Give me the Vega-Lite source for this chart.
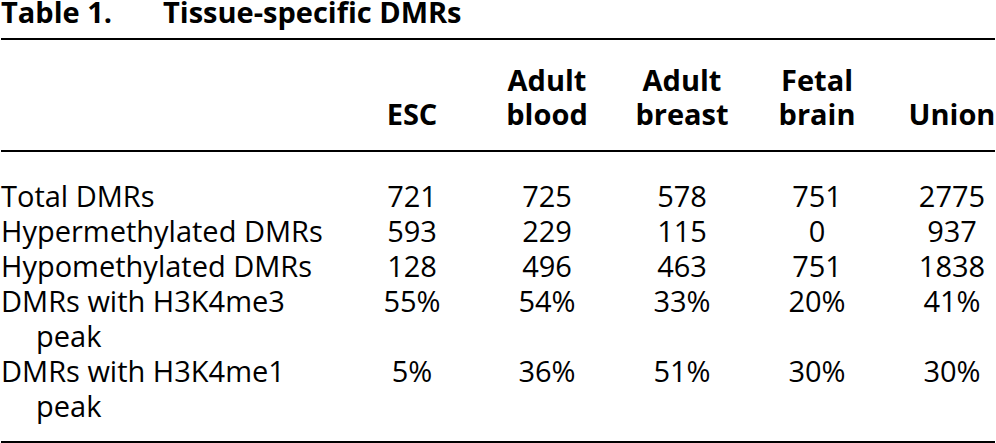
{
  "$schema": "https://vega.github.io/schema/vega-lite/v6.json",
  "width": 996,
  "height": 443,
  "autosize": {"type": "fit", "contains": "padding"},
  "padding": 0,
  "background": "white",
  "config": {
    "view": {"stroke": null},
    "scale": {"pointPadding": 0},
    "text": {"font": "Open Sans", "fontSize": 29, "color": "#000000", "baseline": "alphabetic"}
  },
  "datasets": {
    "cells": [
      {"row": "Total DMRs", "col": "ESC", "val": "721"},
      {"row": "Total DMRs", "col": "Adult blood", "val": "725"},
      {"row": "Total DMRs", "col": "Adult breast", "val": "578"},
      {"row": "Total DMRs", "col": "Fetal brain", "val": "751"},
      {"row": "Total DMRs", "col": "Union", "val": "2775"},
      {"row": "Hypermethylated DMRs", "col": "ESC", "val": "593"},
      {"row": "Hypermethylated DMRs", "col": "Adult blood", "val": "229"},
      {"row": "Hypermethylated DMRs", "col": "Adult breast", "val": "115"},
      {"row": "Hypermethylated DMRs", "col": "Fetal brain", "val": "0"},
      {"row": "Hypermethylated DMRs", "col": "Union", "val": "937"},
      {"row": "Hypomethylated DMRs", "col": "ESC", "val": "128"},
      {"row": "Hypomethylated DMRs", "col": "Adult blood", "val": "496"},
      {"row": "Hypomethylated DMRs", "col": "Adult breast", "val": "463"},
      {"row": "Hypomethylated DMRs", "col": "Fetal brain", "val": "751"},
      {"row": "Hypomethylated DMRs", "col": "Union", "val": "1838"},
      {"row": "DMRs with H3K4me3 peak", "col": "ESC", "val": "55%"},
      {"row": "DMRs with H3K4me3 peak", "col": "Adult blood", "val": "54%"},
      {"row": "DMRs with H3K4me3 peak", "col": "Adult breast", "val": "33%"},
      {"row": "DMRs with H3K4me3 peak", "col": "Fetal brain", "val": "20%"},
      {"row": "DMRs with H3K4me3 peak", "col": "Union", "val": "41%"},
      {"row": "DMRs with H3K4me1 peak", "col": "ESC", "val": "5%"},
      {"row": "DMRs with H3K4me1 peak", "col": "Adult blood", "val": "36%"},
      {"row": "DMRs with H3K4me1 peak", "col": "Adult breast", "val": "51%"},
      {"row": "DMRs with H3K4me1 peak", "col": "Fetal brain", "val": "30%"},
      {"row": "DMRs with H3K4me1 peak", "col": "Union", "val": "30%"}
    ],
    "labels": [
      {"row": "Total DMRs", "level": "main", "label": "Total DMRs"},
      {"row": "Hypermethylated DMRs", "level": "main", "label": "Hypermethylated DMRs"},
      {"row": "Hypomethylated DMRs", "level": "main", "label": "Hypomethylated DMRs"},
      {"row": "DMRs with H3K4me3 peak", "level": "main", "label": "DMRs with H3K4me3"},
      {"row": "H3K4me3 continued", "level": "continued", "label": "peak"},
      {"row": "DMRs with H3K4me1 peak", "level": "main", "label": "DMRs with H3K4me1"},
      {"row": "H3K4me1 continued", "level": "continued", "label": "peak"}
    ],
    "headers": [
      {"col": "ESC", "line": "2", "text": "ESC"},
      {"col": "Adult blood", "line": "1", "text": "Adult"},
      {"col": "Adult blood", "line": "2", "text": "blood"},
      {"col": "Adult breast", "line": "1", "text": "Adult"},
      {"col": "Adult breast", "line": "2", "text": "breast"},
      {"col": "Fetal brain", "line": "1", "text": "Fetal"},
      {"col": "Fetal brain", "line": "2", "text": "brain"},
      {"col": "Union", "line": "2", "text": "Union"}
    ],
    "title": [
      {"part": "Table 1."},
      {"part": "Tissue-specific DMRs"}
    ],
    "rules": [
      {"rule": "top"},
      {"rule": "mid"},
      {"rule": "bottom"}
    ]
  },
  "layer": [
    {
      "data": {"name": "title"},
      "mark": {"type": "text", "align": "left", "fontWeight": "bold"},
      "encoding": {
        "x": {"field": "part", "type": "nominal", "axis": null,
              "scale": {"type": "point", "padding": 0, "domain": ["Table 1.", "Tissue-specific DMRs"], "range": [0, 162]}},
        "y": {"datum": "title", "type": "nominal", "axis": null, "scale": {"type": "point", "padding": 0, "range": [23, 23]}},
        "text": {"field": "part"}
      }
    },
    {
      "data": {"name": "rules"},
      "transform": [{"filter": "datum.rule === 'top'"}],
      "mark": {"type": "rule", "color": "#000000", "strokeWidth": 2},
      "encoding": {
        "y": {"field": "rule", "type": "nominal", "axis": null, "scale": {"type": "point", "padding": 0, "range": [39, 39]}}
      }
    },
    {
      "data": {"name": "rules"},
      "transform": [{"filter": "datum.rule === 'mid'"}],
      "mark": {"type": "rule", "color": "#000000", "strokeWidth": 2},
      "encoding": {
        "y": {"field": "rule", "type": "nominal", "axis": null, "scale": {"type": "point", "padding": 0, "range": [151, 151]}}
      }
    },
    {
      "data": {"name": "rules"},
      "transform": [{"filter": "datum.rule === 'bottom'"}],
      "mark": {"type": "rule", "color": "#000000", "strokeWidth": 2},
      "encoding": {
        "y": {"field": "rule", "type": "nominal", "axis": null, "scale": {"type": "point", "padding": 0, "range": [442, 442]}}
      }
    },
    {
      "data": {"name": "headers"},
      "mark": {"type": "text", "align": "center", "fontWeight": "bold"},
      "encoding": {
        "x": {"field": "col", "type": "nominal", "axis": null,
              "scale": {"type": "point", "padding": 0, "domain": ["ESC", "Adult blood", "Adult breast", "Fetal brain", "Union"], "range": [411, 951]}},
        "y": {"field": "line", "type": "nominal", "axis": null,
              "scale": {"type": "point", "padding": 0, "domain": ["1", "2"], "range": [91, 125]}},
        "text": {"field": "text"}
      }
    },
    {
      "data": {"name": "labels"},
      "mark": {"type": "text", "align": "left"},
      "encoding": {
        "x": {"field": "level", "type": "nominal", "axis": null,
              "scale": {"type": "point", "padding": 0, "domain": ["main", "continued"], "range": [0, 35]}},
        "y": {"field": "row", "type": "nominal", "axis": null,
              "scale": {"type": "point", "padding": 0, "domain": ["Total DMRs", "Hypermethylated DMRs", "Hypomethylated DMRs", "DMRs with H3K4me3 peak", "H3K4me3 continued", "DMRs with H3K4me1 peak", "H3K4me1 continued"], "range": [207, 417]}},
        "text": {"field": "label"}
      }
    },
    {
      "data": {"name": "cells"},
      "mark": {"type": "text", "align": "center"},
      "encoding": {
        "x": {"field": "col", "type": "nominal", "axis": null,
              "scale": {"type": "point", "padding": 0, "domain": ["ESC", "Adult blood", "Adult breast", "Fetal brain", "Union"], "range": [411, 951]}},
        "y": {"field": "row", "type": "nominal", "axis": null,
              "scale": {"type": "point", "padding": 0, "domain": ["Total DMRs", "Hypermethylated DMRs", "Hypomethylated DMRs", "DMRs with H3K4me3 peak", "H3K4me3 continued", "DMRs with H3K4me1 peak", "H3K4me1 continued"], "range": [207, 417]}},
        "text": {"field": "val"}
      }
    }
  ],
  "resolve": {"scale": {"x": "independent", "y": "independent"}}
}
